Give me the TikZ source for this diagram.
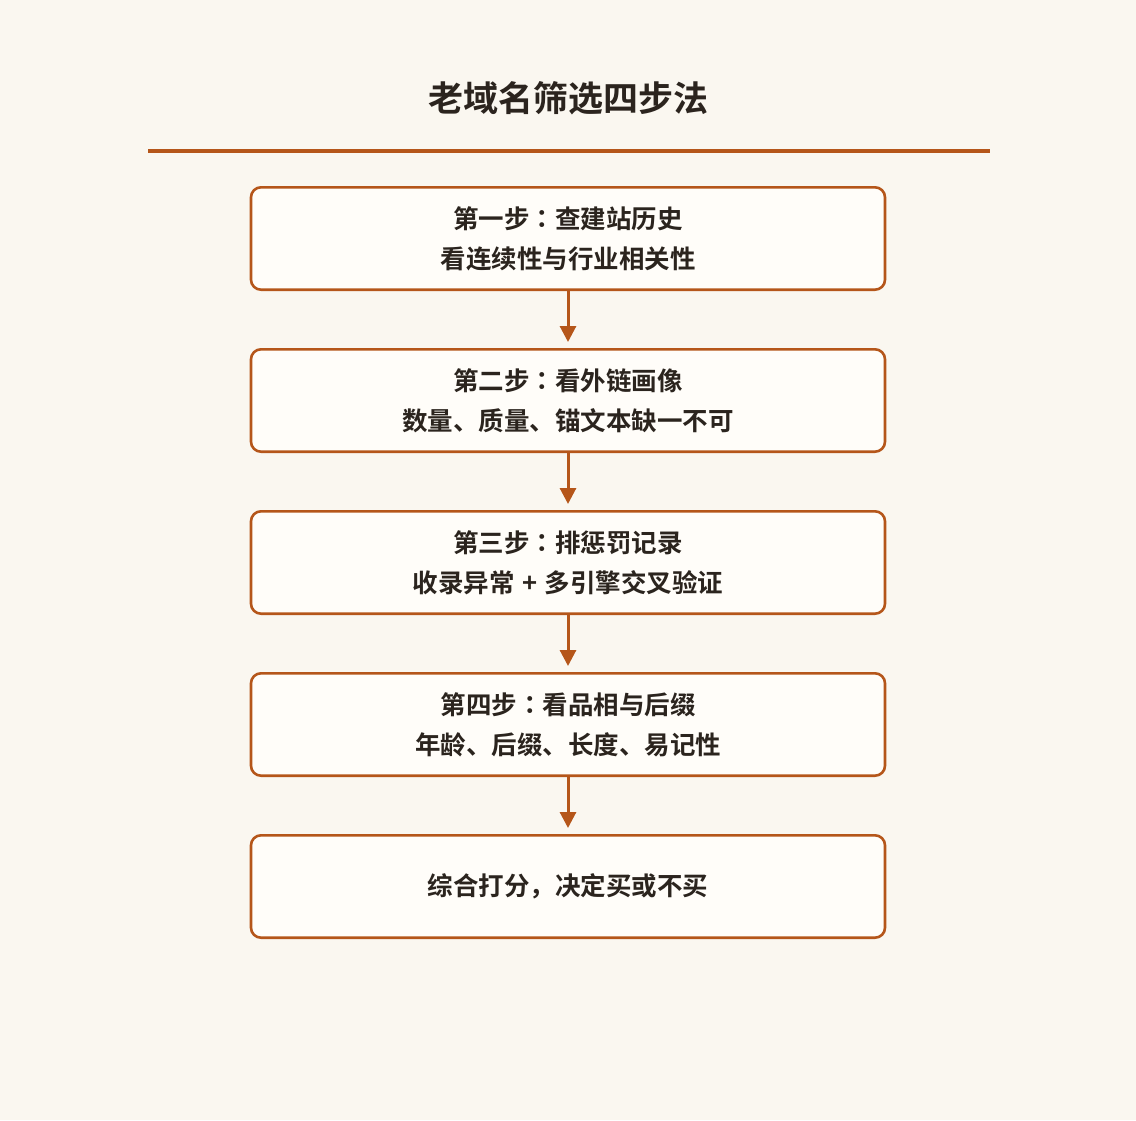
\documentclass[tikz,border=0pt]{standalone}
\usepackage{fontspec}
\setmainfont{Noto Sans CJK SC}
\newfontfamily\cjkbold{Noto Sans CJK SC Bold}
\newfontfamily\cjkcolon{Noto Sans CJK TC Bold}
\usetikzlibrary{positioning,arrows.meta}

\definecolor{paper}{HTML}{FAF7F0}
\definecolor{boxfill}{HTML}{FFFDF9}
\definecolor{rust}{HTML}{B5561A}
\definecolor{ink}{HTML}{2B241E}

\newcommand{\stepcolon}{{\cjkcolon ：}}

\begin{document}
\begin{tikzpicture} [x=1pt, y=1pt,
            stage/.style={draw=rust, fill=boxfill, line width=2.6pt, rounded corners=10pt,
                minimum width=634pt, minimum height=102.4pt, align=center, text=ink,
                font=\cjkbold\fontsize{25.5}{40}\selectfont},
            flow/.style={draw=rust, line width=3pt, -{Triangle[width=16pt,length=16pt]}, shorten >=6pt},
            node distance=57pt]

        \fill[paper] (0,0) rectangle (1136,-1120);
        \useasboundingbox (0,0) rectangle (1136,-1120);

        \node[text=ink, font=\cjkbold\fontsize{35}{40}\selectfont] (title) at (568,-98) {老域名筛选四步法};
        \draw[rust, line width=3.5pt] (148,-151) coordinate (ruleL) -- (990,-151) coordinate (ruleR);

        \node[stage] (history) at (568,-238.5) {第一步\stepcolon 查建站历史\\看连续性与行业相关性};
        \node[stage, below=of history] (links) {第二步\stepcolon 看外链画像\\数量、质量、锚文本缺一不可};
        \node[stage, below=of links] (penalty) {第三步\stepcolon 排惩罚记录\\收录异常\hspace{0.3em}+\hspace{0.3em}多引擎交叉验证};
        \node[stage, below=of penalty] (looks) {第四步\stepcolon 看品相与后缀\\年龄、后缀、长度、易记性};
        \node[stage, below=of looks] (verdict) {综合打分，决定买或不买};

        \draw[flow] (history) -- (links);
        \draw[flow] (links) -- (penalty);
        \draw[flow] (penalty) -- (looks);
        \draw[flow] (looks) -- (verdict);
    \end{tikzpicture}
\end{document}
